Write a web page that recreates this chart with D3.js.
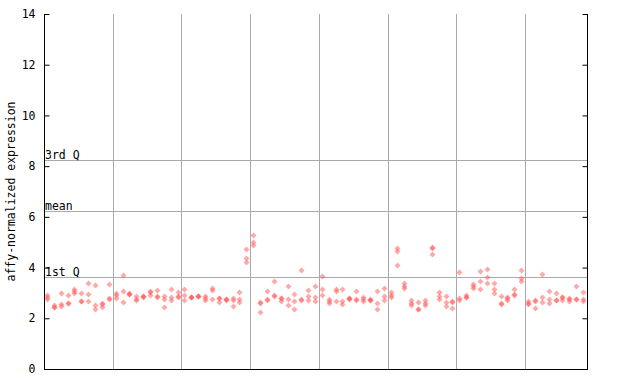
<!DOCTYPE html>
<html><head><meta charset="utf-8">
<script src="https://cdn.jsdelivr.net/npm/d3@7"></script>
<style>body{margin:0;background:#fff}svg{display:block}</style>
</head><body><div id="chart"></div>
<script>
// ---- data ----
const groupSizes = [10,10,10,10,10,10,10,9];
const probe1 = [2.90,2.52,3.01,2.92,3.14,3.01,3.41,3.30,2.60,3.34,
  2.98,3.69,2.99,2.88,2.87,3.06,3.10,2.88,3.14,3.05,
  3.14,2.85,2.88,2.87,3.19,2.80,2.77,2.80,3.05,4.72,
  5.28,2.63,3.06,3.46,2.81,3.26,2.94,3.89,3.10,3.26,
  3.65,2.76,3.15,3.15,2.80,3.06,2.85,2.76,3.06,3.21,
  3.02,4.76,3.38,2.71,2.63,2.71,4.80,3.04,2.87,2.67,
  3.81,2.91,3.35,3.85,3.93,3.38,2.87,2.82,3.14,3.89,
  2.68,2.71,3.73,3.06,3.00,2.85,2.80,3.26,3.04];
const probe2 = [2.83,2.46,2.56,2.62,3.06,2.70,2.96,2.52,2.55,2.80,
  2.90,3.08,2.97,2.77,2.86,3.04,2.86,2.77,2.82,2.87,
  2.91,2.84,2.87,2.80,3.10,2.79,2.76,2.71,2.75,4.37,
  5.01,2.61,2.76,2.90,2.80,2.77,2.67,2.76,2.89,2.83,
  3.14,2.67,3.06,2.67,2.79,2.75,2.76,2.74,2.59,2.87,
  2.93,4.67,3.29,2.62,2.38,2.62,4.78,2.87,2.63,2.65,
  2.80,2.84,3.26,3.46,3.61,3.15,2.59,2.80,2.94,3.58,
  2.62,2.69,2.84,2.77,2.73,2.83,2.78,2.77,2.76];
const probe3 = [2.75,2.44,2.49,2.60,2.98,2.68,2.68,2.36,2.43,2.78,
  2.80,2.63,2.95,2.72,2.84,2.92,2.84,2.43,2.72,2.85,
  2.71,2.83,2.86,2.71,2.75,2.63,2.74,2.47,2.66,4.22,
  4.88,2.24,2.74,2.88,2.67,2.51,2.35,2.74,2.71,2.67,
  2.91,2.59,2.67,2.56,2.77,2.74,2.67,2.72,2.35,2.71,
  2.83,4.09,3.19,2.51,2.36,2.51,4.54,2.76,2.47,2.42,
  2.71,2.82,3.18,3.14,3.38,2.98,2.57,2.71,2.92,3.48,
  2.58,2.39,2.63,2.59,2.71,2.71,2.70,2.75,2.67];
const yTicks = [0,2,4,6,8,10,12,14];
const refLines = [{label:"3rd Q", value:8.23},{label:"mean", value:6.23},{label:"1st Q", value:3.62}];
const yTitle = "affy-normalized expression";

// ---- layout ----
const W = 640, H = 384;
const L = 44, R = 587, T = 14, B = 369;
const nSamples = probe1.length;
const svg = d3.select("#chart").append("svg").attr("width", W).attr("height", H);

const x = d3.scaleBand().domain(d3.range(nSamples)).range([L, R]).paddingInner(0).paddingOuter(0);
const y = d3.scaleLinear().domain([0, 14]).range([B, T]);

const defs = svg.append("defs");
const pat = defs.append("pattern").attr("id","chk").attr("patternUnits","userSpaceOnUse")
  .attr("width",2).attr("height",2);
pat.append("rect").attr("x",0).attr("y",0).attr("width",1).attr("height",1).attr("fill","#ff5555");
pat.append("rect").attr("x",1).attr("y",1).attr("width",1).attr("height",1).attr("fill","#ff5555");

const mono = "'DejaVu Sans Mono', 'Liberation Mono', monospace";

// vertical group separators
let acc = 0;
const bounds = [];
groupSizes.slice(0, -1).forEach(s => { acc += s; bounds.push(acc); });
svg.append("g").selectAll("line").data(bounds).join("line")
  .attr("x1", d => Math.round(x(d)) + 0.5).attr("x2", d => Math.round(x(d)) + 0.5)
  .attr("y1", T).attr("y2", B).attr("stroke", "#aaaaaa").attr("stroke-width", 1);

// reference lines
const rg = svg.append("g");
rg.selectAll("line").data(refLines).join("line")
  .attr("x1", L).attr("x2", R)
  .attr("y1", d => Math.round(y(d.value)) + 0.5).attr("y2", d => Math.round(y(d.value)) + 0.5)
  .attr("stroke", "#aaaaaa").attr("stroke-width", 1);
rg.selectAll("text").data(refLines).join("text")
  .attr("x", L + 1).attr("y", d => Math.round(y(d.value)) - 1)
  .attr("font-family", mono).attr("font-size", 11.5).attr("fill", "#000")
  .text(d => d.label);

// points
const pts = [];
[probe1, probe2, probe3].forEach(arr => arr.forEach((v, i) => pts.push({i, v})));
const diamond = "M0,-3L3,0L0,3L-3,0Z";
svg.append("g").selectAll("path").data(pts).join("path")
  .attr("d", diamond)
  .attr("transform", d => `translate(${Math.floor(x(d.i) + x.bandwidth()/2) + 0.5},${Math.round(y(d.v)) + 0.5})`)
  .attr("fill", "url(#chk)");

// axes
const yAxis = d3.axisLeft(y).tickValues(yTicks).tickSize(-5).tickPadding(9).tickFormat(d3.format("d"));
const ga = svg.append("g").attr("transform", `translate(${L + 0.5},0)`).call(yAxis);
ga.select(".domain").remove();
ga.selectAll("text").attr("font-family", mono).attr("font-size", 11.5).attr("fill", "#000");
ga.selectAll("line").attr("stroke", "#000");

const rAxis = d3.axisLeft(y).tickValues(yTicks).tickSize(5).tickFormat("");
const gr = svg.append("g").attr("transform", `translate(${R + 0.5},0)`).call(rAxis);
gr.select(".domain").remove();
gr.selectAll("line").attr("stroke", "#000");

// frame lines
svg.append("line").attr("x1", L + 0.5).attr("x2", L + 0.5).attr("y1", T).attr("y2", B + 0.5).attr("stroke", "#000");
svg.append("line").attr("x1", R + 0.5).attr("x2", R + 0.5).attr("y1", T).attr("y2", B + 0.5).attr("stroke", "#000");
svg.append("line").attr("x1", L).attr("x2", R + 1).attr("y1", B + 0.5).attr("y2", B + 0.5).attr("stroke", "#000");

// y title
svg.append("text").attr("transform", `translate(15,${(T + B) / 2}) rotate(-90)`)
  .attr("text-anchor", "middle").attr("font-family", mono).attr("font-size", 11.5).attr("fill", "#000")
  .text(yTitle);
</script></body></html>
